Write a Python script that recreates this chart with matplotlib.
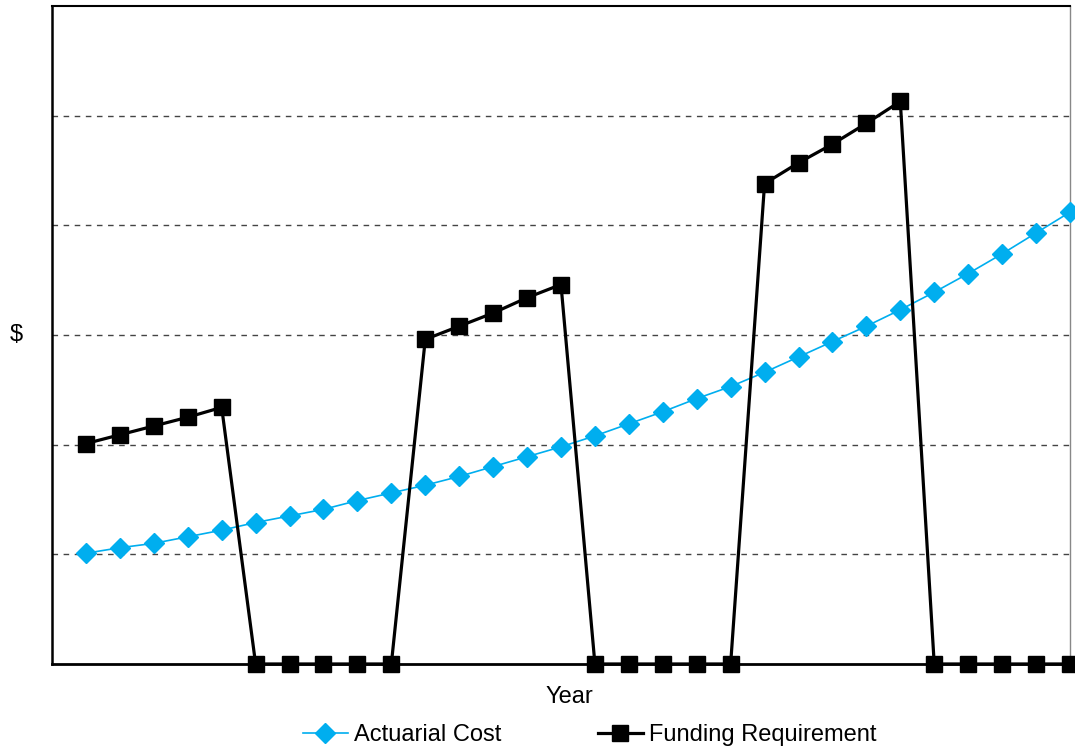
import numpy as np
import matplotlib
matplotlib.use('Agg')
import matplotlib.pyplot as plt

plt.rcParams['font.family'] = ['Liberation Sans', 'DejaVu Sans']

# Year index and the two series
years = list(range(1, 31))
actuarial_cost = [1.01, 1.06, 1.10, 1.16, 1.22, 1.29, 1.35, 1.41, 1.49, 1.56,
                  1.63, 1.71, 1.80, 1.89, 1.98, 2.08, 2.19, 2.30, 2.42, 2.53,
                  2.66, 2.80, 2.94, 3.08, 3.23, 3.39, 3.56, 3.74, 3.93, 4.12]
funding_requirement = [2.01, 2.09, 2.17, 2.25, 2.34, 0, 0, 0, 0, 0,
                       2.96, 3.08, 3.20, 3.34, 3.46, 0, 0, 0, 0, 0,
                       4.38, 4.57, 4.74, 4.93, 5.13, 0, 0, 0, 0, 0]

fig = plt.figure(figsize=(10.75, 7.5), dpi=100)
ax = fig.add_axes([0.0484, 0.1147, 0.9469, 0.8773])

ax.plot(years, actuarial_cost, color='#00AEEF', linewidth=1.2, marker='D',
        markersize=10, label='Actuarial Cost', zorder=3, clip_on=False)
ax.plot(years, funding_requirement, color='black', linewidth=2.3, marker='s',
        markersize=11.5, label='Funding Requirement', zorder=4, clip_on=False)

ax.set_xlim(0, 30)
ax.set_ylim(0, 6)
ax.set_xticks([])
ax.set_yticks([1, 2, 3, 4, 5])
ax.tick_params(axis='y', length=0, labelleft=False)
ax.grid(axis='y', linestyle=(0, (4, 4)), color='#444444', linewidth=1)

ax.spines['left'].set_linewidth(1.8)
ax.spines['bottom'].set_linewidth(2)
ax.spines['top'].set_linewidth(1.5)
ax.spines['right'].set_color('#888888')
ax.spines['right'].set_linewidth(1)

ax.set_xlabel('Year', fontsize=17, va='center')
ax.xaxis.set_label_coords(0.508, -0.05)
ax.set_ylabel('$', fontsize=17, rotation=0, va='center', ha='center')
ax.yaxis.set_label_coords(-0.035, 0.5)

ax.legend(loc='center', bbox_to_anchor=(0.528, -0.108), ncol=2,
          frameon=False, fontsize=17, handlelength=1.9, columnspacing=4.1,
          handletextpad=0.25)

plt.savefig('out.png', dpi=100)
